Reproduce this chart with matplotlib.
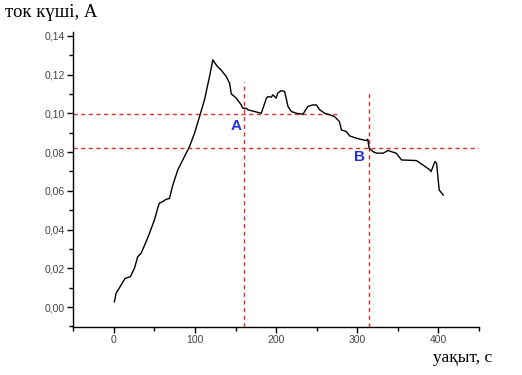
import matplotlib
matplotlib.use("Agg")
import matplotlib.pyplot as plt
from matplotlib.ticker import MultipleLocator, FuncFormatter

# Current curve (time s, current A)
t = [0.6, 2.7, 8.9, 13.8, 20.4, 25.3, 29.4, 33.5, 39.7, 43.8, 50, 54, 56, 60.2,
     64.4, 68.5, 72.0, 74.7, 78.8, 85, 93.2, 99.4, 105.6, 111.7, 117.9, 122,
     124, 128, 132, 138.5, 142.6, 144.7, 150.9, 157, 159, 163, 165, 181.7, 188, 190,
     194, 196, 200, 202, 206.4, 210.5, 214.6, 218.8, 225, 233, 239, 245, 249.6,
     253.7, 260, 266, 272, 278, 280.5, 286.7, 290.7, 299, 311, 313, 314.6, 319.5,
     323.7, 332, 338, 342, 348, 354.6, 373, 389.5, 391, 395.7, 397.8, 401, 406]
i = [0.0027, 0.0071, 0.0114, 0.0148, 0.0157, 0.0200, 0.0260, 0.0277, 0.0337, 0.0380,
     0.0450, 0.0510, 0.0536, 0.0544, 0.0556, 0.0560, 0.0620, 0.0656, 0.0708,
     0.0760, 0.0828, 0.0897, 0.0983, 0.1070, 0.1190, 0.1276, 0.1262, 0.1240, 0.1224, 0.1190,
     0.1155, 0.1100, 0.1078, 0.1043, 0.1026, 0.1026, 0.1018, 0.1000, 0.1078, 0.1086,
     0.1083, 0.1095, 0.1078, 0.1104, 0.1117, 0.1112, 0.1035, 0.1009, 0.1000, 0.0995,
     0.1035, 0.1043, 0.1043, 0.1018, 0.1000, 0.0992, 0.0983, 0.0957, 0.0914, 0.0905,
     0.0883, 0.0871, 0.0859, 0.0866, 0.0820, 0.0802, 0.0794, 0.0794, 0.0808, 0.0802,
     0.0794, 0.0759, 0.0756, 0.0708, 0.0699, 0.0751, 0.0742, 0.0604, 0.0578]

# Reference lines
h_levels = [0.0995, 0.0823]
h_ends = [278, 450]
v_positions = [160, 315]
v_tops = [0.116, 0.111]
point_labels = ["A", "B"]
label_pos = [(151, 0.0935), (303, 0.0775)]

ylabel = "ток күші, А"
xlabel = "уақыт, с"

fig = plt.figure(figsize=(5.22, 3.75), dpi=100)
ax = fig.add_axes([0.1405, 0.128, 0.777, 0.787])
ax.set_xlim(-50, 450)
ax.set_ylim(-0.0103, 0.142)

red = "#e03030"
for lev, xe in zip(h_levels, h_ends):
    ax.plot([-50, xe], [lev, lev], color=red, lw=1.0, ls=(0, (3, 2.5)))
for xv, yt in zip(v_positions, v_tops):
    ax.plot([xv, xv], [-0.0103, yt], color=red, lw=1.0, ls=(0, (3, 2.5)))

ax.plot(t, i, color="black", lw=1.0)

for lab, (x, y) in zip(point_labels, label_pos):
    ax.text(x, y, lab, color="#2233dd", fontsize=11, fontweight="bold",
            ha="center", va="center", family="Liberation Sans")

for s in ["top", "right"]:
    ax.spines[s].set_visible(False)
for s in ["left", "bottom"]:
    ax.spines[s].set_linewidth(1.0)

ax.xaxis.set_major_locator(MultipleLocator(100))
ax.xaxis.set_minor_locator(MultipleLocator(50))
ax.yaxis.set_major_locator(MultipleLocator(0.02))
ax.yaxis.set_minor_locator(MultipleLocator(0.01))
ax.yaxis.set_major_formatter(FuncFormatter(lambda v, p: f"{v:.2f}".replace(".", ",").replace("-0,00", "0,00")))
ax.xaxis.set_major_formatter(FuncFormatter(lambda v, p: f"{int(round(v))}"))
ax.tick_params(which="major", direction="out", length=4, width=1.0, labelsize=7.5, labelcolor="#444444", pad=2)
ax.tick_params(which="minor", direction="out", length=3, width=1.0)
for lbl in ax.get_xticklabels() + ax.get_yticklabels():
    lbl.set_family("Liberation Sans")

fig.text(0.01, 0.955, ylabel, family="Liberation Serif", fontsize=13.5, ha="left", va="baseline")
fig.text(0.83, 0.035, xlabel, family="Liberation Serif", fontsize=12.5, ha="left", va="baseline")

fig.savefig("out.png", dpi=100)
